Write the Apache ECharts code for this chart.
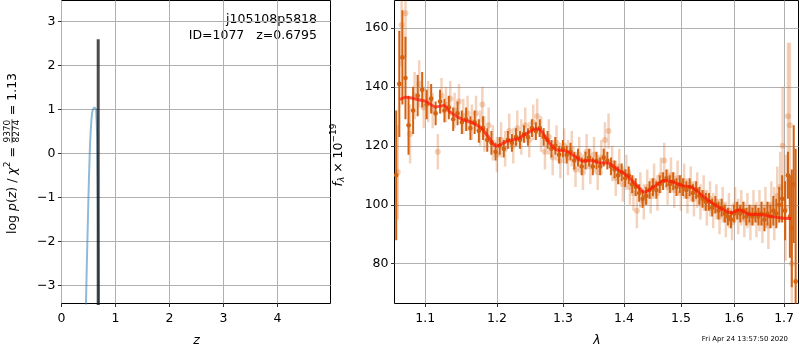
<!DOCTYPE html>
<html>
<head>
<meta charset="utf-8">
<script src="https://cdn.jsdelivr.net/npm/echarts@6/dist/echarts.min.js"></script>
<style>
html, body { margin: 0; padding: 0; background: #fff; }
#main { width: 800px; height: 350px; }
</style>
</head>
<body>
<div id="main"></div>
<script>
// left panel: log p(z)
var zGrid = [0.44, 0.45, 0.46, 0.47, 0.48, 0.49, 0.50, 0.51, 0.52, 0.53, 0.54, 0.55, 0.56, 0.57,
             0.58, 0.59, 0.60, 0.61, 0.62, 0.63, 0.64, 0.65, 0.66, 0.67, 0.68, 0.69, 0.70];
var logPz = [-4.2, -3.6, -3.0, -2.45, -1.95, -1.45, -0.95, -0.5, -0.1, 0.25, 0.5, 0.7, 0.85, 0.95,
             1.0, 1.03, 1.04, 1.05, 1.05, 1.06, 1.0, 0.75, 0.4, -0.7, -1.9, -3.2, -4.4];
var zBest = 0.6795;
var zBestSpan = [-3.6, 2.6];
var zTicks = [0, 1, 2, 3, 4];
var logpTicks = [-3, -2, -1, 0, 1, 2, 3];

// right panel: spectrum
var modelLam = [1.0666, 1.0744, 1.0897, 1.1008, 1.1142, 1.1256, 1.1325, 1.1510, 1.1651, 1.1768, 1.1888,
                1.1984, 1.2160, 1.2308, 1.2459, 1.2587, 1.2664, 1.2766, 1.2895, 1.3053, 1.3185, 1.3318,
                1.3454, 1.3590, 1.3723, 1.3890, 1.4060, 1.4231, 1.4347, 1.4493, 1.4703, 1.4851, 1.5031,
                1.5215, 1.5368, 1.5531, 1.5720, 1.5945, 1.6107, 1.6303, 1.6503, 1.6704, 1.6907, 1.7149];
var modelFlux = [135.7, 136.5, 135.7, 135.1, 133.2, 133.7, 131.7, 128.9, 127.8, 126.1, 122.7,
                 119.9, 121.6, 122.4, 124.4, 125.8, 125.0, 121.6, 118.7, 118.2, 116.5, 114.8,
                 115.0, 114.2, 114.2, 112.0, 109.7, 106.3, 104.3, 105.8, 108.2, 107.7, 106.5,
                 105.8, 103.5, 101.2, 99.0, 97.3, 98.2, 96.7, 96.7, 96.1, 95.6, 95.3];

var darkLam = [1.062, 1.066, 1.070, 1.074, 1.078, 1.084, 1.090, 1.096, 1.102, 1.108, 1.114, 1.120,
               1.126, 1.132, 1.138, 1.144, 1.150, 1.156, 1.162, 1.168, 1.174, 1.180, 1.186, 1.192,
               1.198, 1.204, 1.210, 1.216, 1.222, 1.228, 1.234, 1.240, 1.246, 1.252, 1.258, 1.264,
               1.270, 1.276, 1.282, 1.288, 1.294, 1.300, 1.306, 1.312, 1.318, 1.324, 1.330, 1.336,
               1.342, 1.348, 1.354, 1.360, 1.366, 1.372, 1.378, 1.384, 1.390, 1.396, 1.402, 1.408,
               1.414, 1.420, 1.426, 1.432, 1.438, 1.444, 1.450, 1.456, 1.462, 1.468, 1.474, 1.480,
               1.486, 1.492, 1.498, 1.504, 1.510, 1.516, 1.522, 1.528, 1.534, 1.540, 1.546, 1.552,
               1.558, 1.564, 1.570, 1.576, 1.582, 1.588, 1.594, 1.600, 1.606, 1.612, 1.618, 1.624,
               1.630, 1.636, 1.642, 1.648, 1.654, 1.660, 1.666, 1.672, 1.678, 1.684, 1.690, 1.696,
               1.702, 1.708, 1.712, 1.716, 1.720, 1.724];
var darkFlux = [110, 141, 150, 143, 127, 132, 137, 139, 134, 136, 131, 135,
                132, 133, 129, 131, 128, 129, 126, 128, 125, 126, 122, 121,
                118, 120, 119, 122, 121, 123, 122, 124, 123, 126, 125, 126,
                123, 122, 119, 120, 117, 119, 117, 118, 115, 116, 113, 115,
                116, 113, 115, 113, 116, 115, 113, 112, 110, 111, 109, 110,
                107, 106, 104, 102, 103, 105, 106, 105, 107, 108, 109, 107,
                108, 106, 107, 106, 105, 106, 104, 105, 103, 102, 101, 101,
                99, 100, 98, 99, 97, 96, 95, 97, 98, 97, 98, 96,
                97, 96, 97, 96, 97, 95, 97, 96, 98, 97, 100, 102,
                98, 110, 96, 92, 107, 74];
var darkErr = [22, 18, 16, 14, 10, 8, 7, 6, 5, 5, 4, 4,
               4, 4, 4, 4, 4, 4, 4, 4, 4, 4, 4, 4,
               3, 3, 3, 3, 3, 3, 3, 3, 3, 3, 3, 3,
               3, 3, 3, 3, 3, 3, 3, 3, 3, 3, 3, 3,
               3, 3, 3, 3, 3, 3, 3, 3, 3, 3, 3, 3,
               3, 3, 3, 3, 3, 3, 3, 3, 3, 3, 3, 3,
               3, 3, 3, 3, 3, 3, 3, 3, 3, 3, 3, 3,
               3, 3, 3, 3, 3, 3, 3, 3, 3, 3, 3, 3,
               3, 3, 3, 3, 4, 4, 4, 4, 5, 5, 6, 8,
               10, 8, 14, 20, 20, 45];

var lightLam = [1.064, 1.069, 1.074, 1.080, 1.086, 1.092, 1.098, 1.104, 1.110, 1.117, 1.122, 1.128,
                1.134, 1.140, 1.146, 1.152, 1.158, 1.164, 1.170, 1.176, 1.179, 1.182, 1.188, 1.194,
                1.200, 1.206, 1.212, 1.218, 1.224, 1.230, 1.236, 1.242, 1.248, 1.254, 1.260, 1.266,
                1.272, 1.278, 1.284, 1.290, 1.296, 1.302, 1.308, 1.314, 1.320, 1.326, 1.332, 1.338,
                1.344, 1.350, 1.356, 1.362, 1.368, 1.374, 1.380, 1.386, 1.392, 1.398, 1.404, 1.410,
                1.416, 1.422, 1.428, 1.434, 1.440, 1.446, 1.452, 1.458, 1.464, 1.470, 1.476, 1.482,
                1.488, 1.494, 1.500, 1.506, 1.512, 1.518, 1.524, 1.530, 1.536, 1.542, 1.548, 1.554,
                1.560, 1.566, 1.572, 1.578, 1.584, 1.590, 1.596, 1.602, 1.608, 1.614, 1.620, 1.626,
                1.632, 1.638, 1.644, 1.650, 1.656, 1.662, 1.668, 1.674, 1.680, 1.686, 1.692, 1.697,
                1.703, 1.708, 1.712, 1.716];
var lightFlux = [111, 161, 165, 124, 137, 141, 133, 135, 132, 118, 137, 134,
                 136, 132, 135, 130, 131, 128, 131, 126, 134, 124, 127, 121,
                 117, 122, 119, 125, 120, 126, 123, 127, 122, 128, 130, 124,
                 118, 123, 116, 121, 115, 120, 116, 119, 112, 117, 111, 118,
                 113, 117, 111, 116, 122, 125, 114, 109, 113, 107, 111, 106,
                 104, 98, 105, 101, 106, 103, 108, 104, 110, 115, 106, 110,
                 105, 109, 104, 108, 103, 107, 102, 105, 101, 104, 99, 102,
                 98, 101, 96, 100, 95, 98, 94, 100, 96, 99, 95, 98,
                 94, 99, 95, 98, 94, 99, 93, 100, 97, 103, 106, 120,
                 99, 130, 127, 80];
var lightErr = [16, 14, 15, 10, 8, 8, 7, 7, 6, 6, 6, 6,
                6, 6, 6, 6, 6, 6, 6, 6, 6, 6, 6, 6,
                6, 6, 6, 6, 6, 6, 6, 6, 6, 6, 6, 6,
                6, 6, 6, 6, 6, 6, 6, 6, 6, 6, 6, 6,
                6, 6, 6, 6, 6, 6, 6, 6, 6, 6, 6, 6,
                6, 6, 6, 6, 6, 6, 6, 6, 6, 6, 6, 6,
                6, 6, 6, 6, 6, 6, 6, 6, 6, 6, 6, 6,
                6, 6, 6, 6, 6, 6, 6, 6, 6, 6, 6, 6,
                6, 6, 6, 7, 7, 7, 8, 8, 9, 10, 12, 20,
                18, 25, 28, 30];

var lamTicks = [1.1, 1.2, 1.3, 1.4, 1.5, 1.6, 1.7];
var fluxTicks = [80, 100, 120, 140, 160];

var FONT = '"DejaVu Sans", sans-serif';
var FS = 12.5;
var darkColor = '#d46211';
var lightColor = 'rgba(212,98,17,0.28)';

var mctx = document.createElement('canvas').getContext('2d');
function textWidth(s, size, italic) {
    mctx.font = (italic ? 'italic ' : '') + size + 'px ' + FONT;
    return mctx.measureText(s).width;
}
function fontStr(size, italic) {
    return (italic ? 'italic ' : '') + size + 'px ' + FONT;
}
// lay out a label from pieces along x, centred on 0 (used rotated)
function buildLabel(pieces) {
    var x = 0, kids = [];
    pieces.forEach(function (p) {
        if (p.num) {
            var w = Math.max(textWidth(p.num, p.size), textWidth(p.den, p.size)) + 1;
            kids.push({ type: 'text', x: x + w / 2, y: -5.5, style: { text: p.num, font: fontStr(p.size), fill: '#000', align: 'center', verticalAlign: 'middle' } });
            kids.push({ type: 'line', shape: { x1: x, y1: -1, x2: x + w, y2: -1 }, style: { stroke: '#000', lineWidth: 0.7 } });
            kids.push({ type: 'text', x: x + w / 2, y: 3.5, style: { text: p.den, font: fontStr(p.size), fill: '#000', align: 'center', verticalAlign: 'middle' } });
            x += w;
        } else {
            kids.push({ type: 'text', x: x, y: p.dy || 0, style: { text: p.t, font: fontStr(p.size || FS, p.it), fill: '#000', align: 'left', verticalAlign: 'middle' } });
            x += textWidth(p.t, p.size || FS, p.it);
        }
    });
    kids.forEach(function (k) {
        if (k.type === 'line') { k.shape.x1 -= x / 2; k.shape.x2 -= x / 2; }
        else { k.x -= x / 2; }
    });
    return kids;
}

function errRender(color, barW, r) {
    return function (params, api) {
        var x = api.value(0), y = api.value(1), e = api.value(2);
        var p0 = api.coord([x, y - e]), p1 = api.coord([x, y + e]), c = api.coord([x, y]);
        return {
            type: 'group',
            children: [
                { type: 'line', shape: { x1: p0[0], y1: p0[1], x2: p1[0], y2: p1[1] }, style: { stroke: color, lineWidth: barW } },
                { type: 'circle', shape: { cx: c[0], cy: c[1], r: r }, style: { fill: color } }
            ]
        };
    };
}

var lightData = lightLam.map(function (l, i) { return [Math.log10(l), lightFlux[i], lightErr[i]]; });
var darkData = darkLam.map(function (l, i) { return [Math.log10(l), darkFlux[i], darkErr[i]]; });
var modelData = modelLam.map(function (l, i) { return [Math.log10(l), modelFlux[i]]; });
var pzData = zGrid.map(function (z, i) { return [z, logPz[i]]; });

var gridLine = { show: true, lineStyle: { color: '#b0b0b0', width: 1, type: 'solid' } };
var tick = { show: true, length: 3.5, lineStyle: { color: '#000', width: 0.8 } };
var xlab = { color: '#000', fontFamily: FONT, fontSize: FS, margin: 9 };
var ylab = { color: '#000', fontFamily: FONT, fontSize: FS, margin: 6 };
var minus = function (v) { return String(v).replace('-', '\u2212'); };

var myChart = echarts.init(document.getElementById('main'), null, { renderer: 'canvas' });

var option = {
    animation: false,
    backgroundColor: '#fff',
    textStyle: { fontFamily: FONT },
    grid: [
        { left: 61.5, top: 0.5, width: 269, height: 303, show: true, borderColor: '#000', borderWidth: 1, backgroundColor: 'transparent' },
        { left: 394.5, top: 0.5, width: 404, height: 303, show: true, borderColor: '#000', borderWidth: 1, backgroundColor: 'transparent' }
    ],
    xAxis: [{
        gridIndex: 0, type: 'value', min: 0, max: 4.98,
        axisLine: { show: false, onZero: false },
        axisTick: Object.assign({ customValues: zTicks }, tick),
        axisLabel: Object.assign({ customValues: zTicks }, xlab),
        splitLine: gridLine
    }, {
        gridIndex: 1, type: 'value', min: Math.log10(1.0598), max: Math.log10(1.730),
        axisLine: { show: false, onZero: false },
        axisTick: Object.assign({ customValues: lamTicks.map(Math.log10) }, tick),
        axisLabel: Object.assign({
            customValues: lamTicks.map(Math.log10),
            formatter: function (v) { return Math.pow(10, v).toFixed(1); }
        }, xlab),
        splitLine: gridLine
    }],
    yAxis: [{
        gridIndex: 0, type: 'value', min: -3.41, max: 3.48,
        axisLine: { show: false, onZero: false },
        axisTick: Object.assign({ customValues: logpTicks }, tick),
        axisLabel: Object.assign({ customValues: logpTicks, formatter: minus }, ylab),
        splitLine: gridLine
    }, {
        gridIndex: 1, type: 'value', min: 66.5, max: 169.3,
        axisLine: { show: false, onZero: false },
        axisTick: Object.assign({ customValues: fluxTicks }, tick),
        axisLabel: Object.assign({ customValues: fluxTicks }, ylab),
        splitLine: gridLine
    }],
    series: [{
        type: 'line', xAxisIndex: 0, yAxisIndex: 0, data: pzData,
        showSymbol: false, symbol: 'none', clip: true,
        lineStyle: { color: 'rgba(31,119,180,0.5)', width: 2 }
    }, {
        type: 'line', xAxisIndex: 0, yAxisIndex: 0,
        data: [[zBest, zBestSpan[0]], [zBest, zBestSpan[1]]],
        symbol: 'none', clip: true,
        lineStyle: { color: 'rgba(0,0,0,0.7)', width: 3 }
    }, {
        type: 'custom', xAxisIndex: 1, yAxisIndex: 1, data: lightData, clip: true,
        encode: { x: 0, y: 1 },
        renderItem: errRender(lightColor, 2.5, 3)
    }, {
        type: 'custom', xAxisIndex: 1, yAxisIndex: 1, data: darkData, clip: true,
        encode: { x: 0, y: 1 },
        renderItem: errRender(darkColor, 2, 2.3)
    }, {
        type: 'line', xAxisIndex: 1, yAxisIndex: 1, data: modelData,
        symbol: 'none', smooth: 0.3, clip: true,
        lineStyle: { color: 'rgba(255,20,0,0.7)', width: 3 }
    }],
    graphic: [
        { type: 'group', x: 13, y: 153.5, rotation: Math.PI / 2,
          children: buildLabel([
              { t: 'log ' }, { t: 'p', it: true }, { t: '(' }, { t: 'z', it: true }, { t: ') / ' },
              { t: '\u03c7', it: true }, { t: '2', size: 9, dy: -5 }, { t: ' = ' },
              { num: '9370', den: '8274', size: 9 }, { t: ' = 1.13' }
          ]) },
        { type: 'group', x: 339, y: 155, rotation: Math.PI / 2,
          children: buildLabel([
              { t: 'f', it: true }, { t: '\u03bb', it: true, size: 9, dy: 3 }, { t: ' \u00d7 10' },
              { t: '\u221219', size: 9, dy: -5 }
          ]) },
        { type: 'text', x: 196.5, y: 341, style: { text: 'z', font: fontStr(FS, true), fill: '#000', align: 'center', verticalAlign: 'middle' } },
        { type: 'text', x: 597, y: 341, style: { text: '\u03bb', font: fontStr(FS, true), fill: '#000', align: 'center', verticalAlign: 'middle' } },
        { type: 'text', x: 317, y: 20, style: { text: 'j105108p5818', font: fontStr(FS), fill: '#000', align: 'right', verticalAlign: 'middle' } },
        { type: 'text', x: 317, y: 35.5, style: { text: 'ID=1077   z=0.6795', font: fontStr(FS), fill: '#000', align: 'right', verticalAlign: 'middle' } },
        { type: 'text', x: 788, y: 339, style: { text: 'Fri Apr 24 13:57:50 2020', font: fontStr(6.9), fill: '#000', align: 'right', verticalAlign: 'middle' } }
    ]
};
myChart.setOption(option);
</script>
</body>
</html>
